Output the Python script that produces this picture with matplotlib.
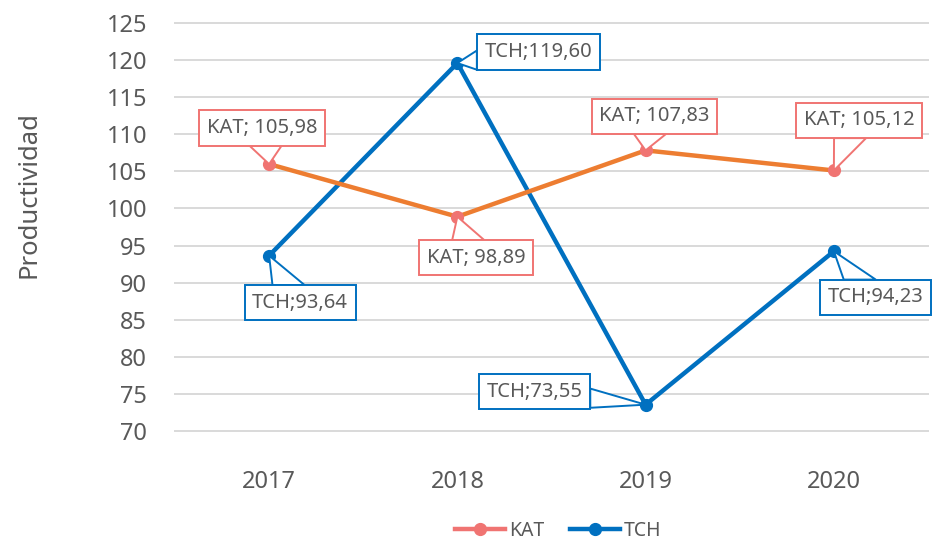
import matplotlib
matplotlib.use("Agg")
import matplotlib.pyplot as plt
from matplotlib.lines import Line2D
from matplotlib.patches import Polygon
from matplotlib.transforms import IdentityTransform
import numpy as np

years = ["2017", "2018", "2019", "2020"]
kat = [105.98, 98.89, 107.83, 105.12]
tch = [93.64, 119.60, 73.55, 94.23]
kat_labels = ["KAT; 105,98", "KAT; 98,89", "KAT; 107,83", "KAT; 105,12"]
tch_labels = ["TCH;93,64", "TCH;119,60", "TCH;73,55", "TCH;94,23"]
yticks = [70, 75, 80, 85, 90, 95, 100, 105, 110, 115, 120, 125]

# label offsets (pixels) for the callouts
kat_off = [(-7, 36), (19, -41), (9, 34), (25, 50)]
tch_off = [(31, -47), (81, 11), (-111, 13), (42, -46)]

plt.rcParams['font.family'] = ['Noto Sans', 'DejaVu Sans']
GRAY = '#595959'
ORANGE = '#ED7D31'
SALMON = '#F07472'
BLUE = '#0070C0'

fig = plt.figure(figsize=(9.37, 5.46), dpi=100)
W, H = 937, 546
ax = fig.add_axes([175 / W, 115 / H, 753 / W, 408 / H])
x = list(range(len(years)))

ax.plot(x, tch, color=BLUE, lw=3.2, marker='o', ms=8.5, mfc=BLUE, mec=BLUE, zorder=3)
ax.plot(x, kat, color=ORANGE, lw=3.2, marker='o', ms=8.5, mfc=SALMON, mec=SALMON, zorder=4)

ax.set_xlim(-0.5, 3.5)
ax.set_ylim(70, 125)
ax.set_yticks(yticks)
ax.set_xticks(x)
ax.set_xticklabels(years)
for s in ax.spines.values():
    s.set_visible(False)
ax.grid(axis='y', color='#D9D9D9', lw=1.4, zorder=0)
ax.set_axisbelow(True)
for gl in ax.get_ygridlines():
    gl.set_clip_on(False)
ax.tick_params(axis='both', length=0, labelsize=17, labelcolor=GRAY)
ax.tick_params(axis='x', pad=28)
ax.tick_params(axis='y', pad=20)

fig.text(29 / W, 1 - 195 / H, "Productividad", rotation=90, ha='center', va='center',
         fontsize=18.5, color=GRAY)

anns = []


def callout(xi, yi, txt, off, col):
    a = ax.annotate(txt, xy=(xi, yi), xytext=off, textcoords='offset pixels',
                    ha='center', va='center', fontsize=14.5, color=GRAY, zorder=6,
                    bbox=dict(boxstyle='square,pad=0.38', fc='white', ec=col, lw=1.4))
    anns.append((a, xi, yi, col))


for i in x:
    callout(i, kat[i], kat_labels[i], kat_off[i], SALMON)
    callout(i, tch[i], tch_labels[i], tch_off[i], BLUE)

handles = [Line2D([], [], color=SALMON, lw=3.2, marker='o', ms=8.5),
           Line2D([], [], color=BLUE, lw=3.2, marker='o', ms=8.5)]
leg = fig.legend(handles, ["KAT", "TCH"], loc='center', bbox_to_anchor=(558 / W, 1 - 531 / H),
                 ncol=2, frameon=False, fontsize=14, handlelength=2.6, handletextpad=0.2,
                 columnspacing=1.3)
for t in leg.get_texts():
    t.set_color(GRAY)

# build callout pointers
fig.canvas.draw()
r = fig.canvas.get_renderer()
HALF = 16
for a, xi, yi, col in anns:
    bb = a.get_bbox_patch().get_window_extent(r)
    P = np.array(ax.transData.transform((xi, yi)))
    C = np.array([(bb.x0 + bb.x1) / 2, (bb.y0 + bb.y1) / 2])
    d = P - C
    hw, hh = bb.width / 2, bb.height / 2
    tx = hw / abs(d[0]) if d[0] != 0 else np.inf
    ty = hh / abs(d[1]) if d[1] != 0 else np.inf
    if ty <= tx:
        E = C + d * ty
        ex = np.clip(E[0], bb.x0 + HALF, bb.x1 - HALF)
        b1, b2 = (ex - HALF, E[1]), (ex + HALF, E[1])
    else:
        E = C + d * tx
        h2 = min(HALF * 0.6, hh - 2)
        ey = np.clip(E[1], bb.y0 + h2, bb.y1 - h2)
        b1, b2 = (E[0], ey - h2), (E[0], ey + h2)
    poly = Polygon([b1, tuple(P), b2], closed=True, fc='white', ec=col, lw=1.4,
                   transform=IdentityTransform(), clip_on=False, zorder=5.5)
    ax.add_artist(poly)

fig.savefig("out.png", dpi=100)
